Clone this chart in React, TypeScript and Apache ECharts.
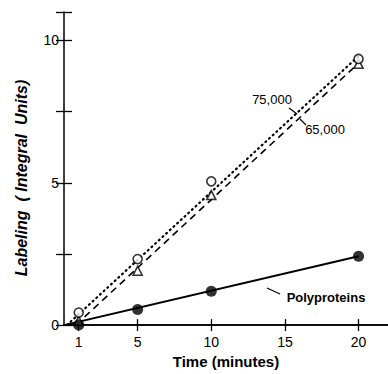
import React, { useEffect, useRef } from "react";
import * as echarts from "echarts";

const timeTicks = [1, 5, 10, 15, 20];
const times = [1, 5, 10, 20];
const labeling75k = [0.44, 2.32, 5.05, 9.35];
const labeling65k = [0.15, 1.91, 4.57, 9.18];
const polyproteins = [0.0, 0.55, 1.19, 2.42];
const fit75k = [[0.2, 0], [20, 9.45]];
const fit65k = [[0.8, 0], [20, 9.2]];
const fitPoly = [[0, 0], [20, 2.42]];

const FONT = "'Liberation Sans', 'DejaVu Sans', sans-serif";

export default function App() {
  const ref = useRef<HTMLDivElement>(null);
  useEffect(() => {
    if (!ref.current) return;
    const chart = echarts.init(ref.current, null, { renderer: "svg" });
    const pts = (ys: number[]) => times.map((t, i) => [t, ys[i]]);
    const tickStyle = { color: "#000", width: 1.3 };
    chart.setOption({
      animation: false,
      backgroundColor: "#fff",
      grid: { left: 64, right: 0, top: 12, bottom: 41 },
      xAxis: [
        {
          type: "value",
          min: 0,
          max: 22,
          position: "bottom",
          axisLine: { show: true, lineStyle: { color: "#000", width: 1.5 } },
          axisTick: { show: true, inside: true, length: 6, lineStyle: tickStyle, customValues: timeTicks },
          axisLabel: { show: true, customValues: timeTicks, color: "#000", fontSize: 14, fontFamily: FONT, margin: 10 },
          splitLine: { show: false },
          name: "Time (minutes)",
          nameLocation: "middle",
          nameGap: 26,
          nameTextStyle: { color: "#000", fontSize: 15, fontFamily: FONT, fontWeight: "bold" },
        },
        {
          type: "value",
          min: 0,
          max: 22,
          position: "top",
          axisLine: { show: true, lineStyle: { color: "#000", width: 1.5 } },
          axisTick: { show: true, inside: true, length: 6, lineStyle: tickStyle, customValues: timeTicks },
          axisLabel: { show: false },
          splitLine: { show: false },
        },
      ],
      yAxis: [
        {
          type: "value",
          min: 0,
          max: 11,
          interval: 2.5,
          position: "left",
          axisLine: { show: true, lineStyle: { color: "#000", width: 1.5 } },
          axisTick: { show: true, inside: true, length: 8, lineStyle: tickStyle },
          axisLabel: {
            color: "#000",
            fontSize: 14,
            fontFamily: FONT,
            margin: 5,
            formatter: (v: number) => (v % 5 === 0 ? String(v) : ""),
          },
          splitLine: { show: false },
        },
        {
          type: "value",
          min: 0,
          max: 11,
          interval: 2.5,
          position: "right",
          axisLine: { show: false },
          axisTick: { show: true, inside: true, length: 8, lineStyle: tickStyle },
          axisLabel: { show: false },
          splitLine: { show: false },
        },
      ],
      graphic: [
        {
          type: "text",
          x: 21,
          y: 178,
          rotation: Math.PI / 2,
          style: {
            text: "Labeling  ( Integral  Units)",
            fill: "#000",
            font: `italic bold 16px ${FONT}`,
            align: "center",
            verticalAlign: "middle",
          },
        },
        {
          type: "text",
          x: 272,
          y: 99,
          style: { text: "75,000", fill: "#000", font: `13px ${FONT}`, align: "center", verticalAlign: "middle" },
        },
        {
          type: "text",
          x: 325,
          y: 129,
          style: { text: "65,000", fill: "#000", font: `13px ${FONT}`, align: "center", verticalAlign: "middle" },
        },
        {
          type: "text",
          x: 326,
          y: 297,
          style: { text: "Polyproteins", fill: "#000", font: `bold 13px ${FONT}`, align: "center", verticalAlign: "middle" },
        },
        { type: "line", shape: { x1: 289, y1: 108, x2: 297, y2: 114 }, style: { stroke: "#000", lineWidth: 1.2 } },
        { type: "line", shape: { x1: 306, y1: 125, x2: 300, y2: 119 }, style: { stroke: "#000", lineWidth: 1.2 } },
        { type: "line", shape: { x1: 267, y1: 288, x2: 280, y2: 294 }, style: { stroke: "#000", lineWidth: 1.2 } },
      ],
      series: [
        {
          type: "line",
          data: fit75k,
          showSymbol: false,
          lineStyle: { color: "#000", width: 2.2, type: [1, 4], cap: "round" },
          z: 2,
        },
        {
          type: "line",
          data: fit65k,
          showSymbol: false,
          lineStyle: { color: "#000", width: 1.6, type: [7, 5] },
          z: 2,
        },
        {
          type: "line",
          data: fitPoly,
          showSymbol: false,
          lineStyle: { color: "#000", width: 2 },
          z: 2,
        },
        {
          type: "scatter",
          data: pts(labeling75k),
          symbol: "circle",
          symbolSize: 9,
          itemStyle: { color: "#fff", borderColor: "#000", borderWidth: 1.6 },
          z: 4,
        },
        {
          type: "scatter",
          data: pts(labeling65k),
          symbol: "triangle",
          symbolSize: 9,
          itemStyle: { color: "#fff", borderColor: "#000", borderWidth: 1.6 },
          z: 3,
        },
        {
          type: "scatter",
          data: pts(polyproteins),
          symbol: "circle",
          symbolSize: 11,
          itemStyle: { color: "#000" },
          z: 5,
        },
      ],
    });
    return () => chart.dispose();
  }, []);
  return (
    <div
      ref={ref}
      style={{ position: "fixed", left: 0, top: 0, width: 388, height: 374, background: "#fff" }}
    />
  );
}
